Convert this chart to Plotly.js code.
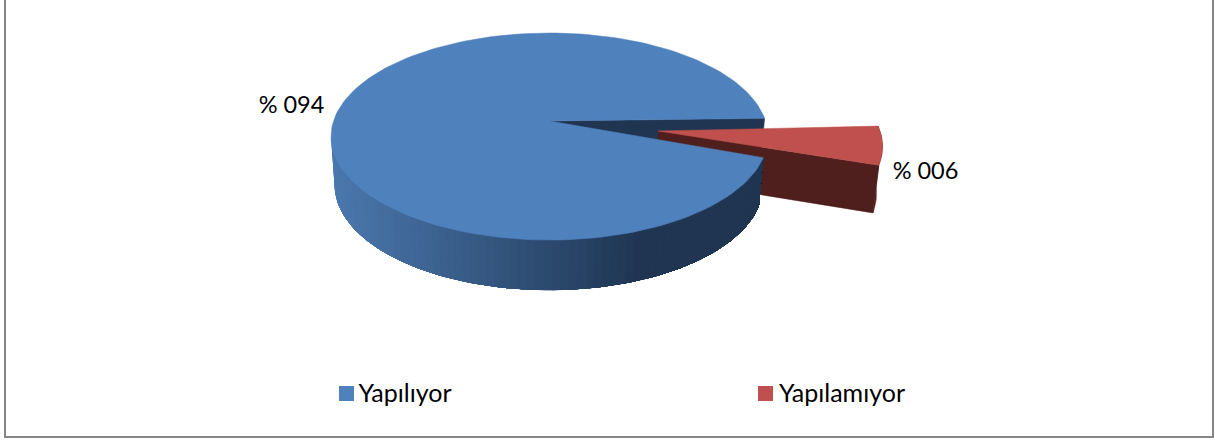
<!DOCTYPE html>
<html>
<head>
<meta charset="utf-8">
<script src="https://cdn.plot.ly/plotly-3.0.1.min.js"></script>
<style>html,body{margin:0;padding:0;background:#fff}#chart{width:1215px;height:441px}</style>
</head>
<body>
<div id="chart"></div>
<script>
const categories = ["Yapılıyor", "Yapılamıyor"];
const values = [94, 6];
const valueLabels = ["% 094", "% 006"];
const topColors = ["#4F81BD", "#C0504D"];
const wallDark = ["#1F3552", "#4F1F1D"];

const K = 0.15;
const D2R = Math.PI / 180;
const sweep = values.map(v => v / values.reduce((a, b) => a + b, 0) * 360);

function proj(p, deg) {
  const u = Math.cos(deg * D2R);
  const v = Math.sin(deg * D2R);
  const w = 1 + K * v;
  return [p.cx + p.R * u / w, p.cy - p.S * v / w];
}
const blueTop = {cx: 549.5, cy: 121, R: 216, S: 101.2};
const blueBot = {cx: 549, cy: 169, R: 212, S: 103};
const redTop  = {cx: 658, cy: 131, R: 222, S: 101.2};
const redBot  = {cx: 658, cy: 178, R: 216, S: 103};
const blueStart = 1.5, redStart = 2.8;

function arc(p, a0, a1, n) {
  const out = [];
  for (let i = 0; i <= n; i++) out.push(proj(p, a0 + (a1 - a0) * i / n));
  return out;
}
function poly(pts, color, lw) {
  const xs = pts.map(q => q[0]), ys = pts.map(q => q[1]);
  xs.push(xs[0]); ys.push(ys[0]);
  return {type: "scatter", mode: "lines", x: xs, y: ys, fill: "toself", fillcolor: color,
    line: {color: color, width: lw === undefined ? 0.5 : lw}, hoverinfo: "skip", showlegend: false};
}
function mix(a, b, t) {
  const pa = [1, 3, 5].map(i => parseInt(a.substr(i, 2), 16));
  const pb = [1, 3, 5].map(i => parseInt(b.substr(i, 2), 16));
  return "rgb(" + pa.map((c, i) => Math.round(c + (pb[i] - c) * t)).join(",") + ")";
}

const traces = [];
const blueEnd = blueStart + sweep[0];
const redEnd = redStart - sweep[1];

// inner cut wall of the large slice
traces.push(poly([[blueTop.cx, blueTop.cy], proj(blueTop, blueStart), proj(blueBot, blueStart), [blueBot.cx, blueBot.cy]], wallDark[0]));
// exploded slice: cut wall and rim wall
traces.push(poly([[redTop.cx, redTop.cy], proj(redTop, redEnd), proj(redBot, redEnd), [redBot.cx, redBot.cy]], wallDark[1]));
traces.push(poly(arc(redTop, redStart, redEnd, 20).concat(arc(redBot, redEnd, redStart, 20)), wallDark[1]));
traces.push(poly([[redTop.cx, redTop.cy]].concat(arc(redTop, redStart, redEnd, 30)), topColors[1]));
// front rim wall of the large slice: each band runs on to the end of the wall,
// so later bands paint over earlier ones with no seams between them
const startWall = 186, nBands = 80;
for (let i = 0; i < nBands; i++) {
  const a0 = startWall + (blueEnd - startWall) * i / nBands;
  const midX = proj(blueBot, a0)[0];
  const t = Math.min(1, Math.max(0, (midX - 335) / 300));
  const col = mix("#4A78AE", wallDark[0], t);
  const n = Math.max(2, Math.round((nBands - i) * 1.5));
  traces.push(poly(arc(blueTop, a0, blueEnd, n).concat(arc(blueBot, blueEnd, a0, n)), col, 0));
}
// top face of the large slice
traces.push(poly([[blueTop.cx, blueTop.cy]].concat(arc(blueTop, blueStart, blueEnd, 180)), topColors[0]));

const font = {family: "Lato, 'Open Sans', sans-serif", color: "#000"};
// value labels
traces.push({type: "scatter", mode: "text", x: [291.5, 925.5], y: [107.5, 173], text: valueLabels,
  textposition: "middle center", textfont: Object.assign({size: 23.5}, font), hoverinfo: "skip", showlegend: false, cliponaxis: false});
// legend keys
categories.forEach((name, i) => {
  traces.push({type: "scatter", mode: "markers", x: [[346.5, 765.5][i]], y: [393.5], name: name,
    marker: {symbol: "square", size: 15, color: topColors[i]}, hoverinfo: "skip", showlegend: false});
  traces.push({type: "scatter", mode: "text", x: [[358.5, 779][i]], y: [395.5], text: [name],
    textposition: "middle right", textfont: Object.assign({size: 25}, font), hoverinfo: "skip", showlegend: false, cliponaxis: false});
});

const layout = {
  width: 1215, height: 441, margin: {l: 0, r: 0, t: 0, b: 0},
  paper_bgcolor: "#fff", plot_bgcolor: "#fff", showlegend: false,
  xaxis: {range: [0, 1215], visible: false, fixedrange: true},
  yaxis: {range: [441, 0], visible: false, fixedrange: true},
  shapes: [{type: "rect", xref: "x", yref: "y", x0: 5, x1: 1213, y0: -5, y1: 437, line: {color: "#868686", width: 2}, fillcolor: "rgba(0,0,0,0)", layer: "above"}]
};
Plotly.newPlot("chart", traces, layout, {displayModeBar: false, staticPlot: true});
</script>
</body>
</html>
